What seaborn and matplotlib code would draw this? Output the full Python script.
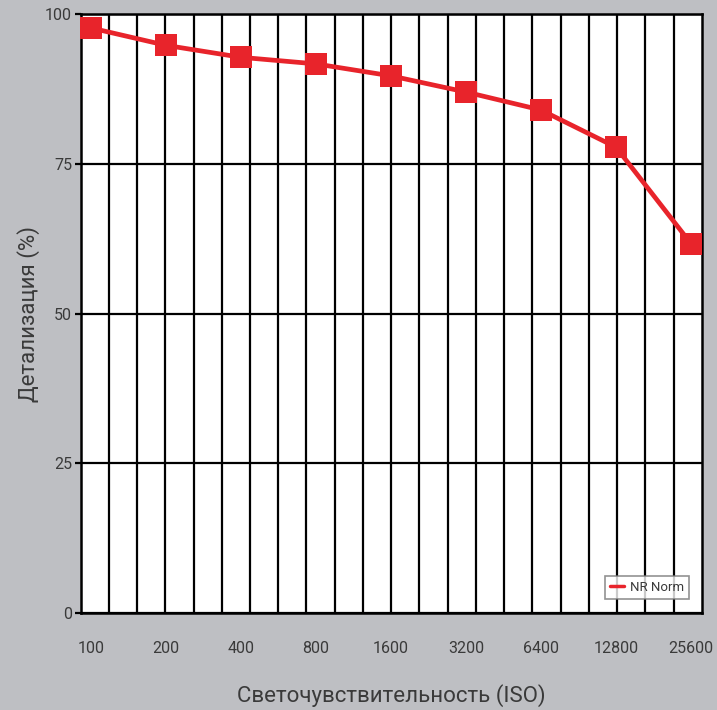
import numpy as np
import pandas as pd
import seaborn as sns
import matplotlib.pyplot as plt
from matplotlib.ticker import NullFormatter

# ISO sensitivity and detail level
iso = [100, 200, 400, 800, 1600, 3200, 6400, 12800, 25600]
iso_labels = ["100", "200", "400", "800", "1600", "3200", "6400", "12800", "25600"]
detail = [97.7, 94.8, 92.8, 91.7, 89.7, 87.0, 84.0, 77.8, 61.7]
y_ticks = [0, 25, 50, 75, 100]

df = pd.DataFrame({"iso": iso, "detail": detail})

sns.set_style("white")
plt.rcParams["font.family"] = ["Roboto", "DejaVu Sans"]

bg = "#bebfc3"
red = "#e8242b"
txt = "#3a3a3a"

fig = plt.figure(figsize=(7.17, 7.10), dpi=100, facecolor=bg)
ax = fig.add_axes([0.1123, 0.1366, 0.979 - 0.1123, 0.980 - 0.1366])
ax.set_facecolor("white")

sns.lineplot(data=df, x="iso", y="detail", ax=ax, color=red, linewidth=3.4,
             marker="s", markersize=16, markeredgewidth=0, label="NR Norm",
             clip_on=False, zorder=5)

ax.set_xscale("log", base=2)
x_lo, x_hi = 100 * 2 ** -0.14, 100 * 2 ** 8.147
ax.set_xlim(x_lo, x_hi)
ax.set_ylim(0, 100)

# vertical grid: evenly spaced lines across the plot
minor = np.logspace(np.log2(x_lo), np.log2(x_hi), 23, base=2)[1:-1]
ax.set_xticks(minor, minor=True)
ax.xaxis.set_minor_formatter(NullFormatter())
ax.set_xticks(iso)
ax.set_xticklabels(iso_labels)
ax.set_yticks(y_ticks)
ax.set_yticklabels([str(v) for v in y_ticks])

ax.grid(False)
ax.grid(True, which="minor", axis="x", color="black", linewidth=1.6)
ax.grid(True, which="major", axis="y", color="black", linewidth=1.6)

ax.tick_params(axis="x", which="both", length=0, pad=20, labelsize=11.5, labelcolor=txt)
ax.tick_params(axis="y", which="major", length=4, width=1.6, color="black",
               pad=2, labelsize=11.5, labelcolor=txt, left=True)

for s in ax.spines.values():
    s.set_color("black")
    s.set_linewidth(1.8)

ax.set_xlabel("Светочувствительность (ISO)", fontsize=16, color=txt, labelpad=20)
ax.set_ylabel("Детализация (%)", fontsize=16, color=txt, labelpad=4)

leg = ax.legend(loc="lower right", fontsize=9.5, frameon=True, fancybox=False,
                handlelength=1.1, handletextpad=0.4, borderpad=0.4,
                bbox_to_anchor=(0.99, 0.012))
leg.get_frame().set_edgecolor("#777777")
leg.get_frame().set_linewidth(1.2)
for h in leg.legend_handles:
    h.set_marker("")
    h.set_linewidth(2.5)
for t in leg.get_texts():
    t.set_color(txt)

fig.savefig("out.png", dpi=100, facecolor=bg)
